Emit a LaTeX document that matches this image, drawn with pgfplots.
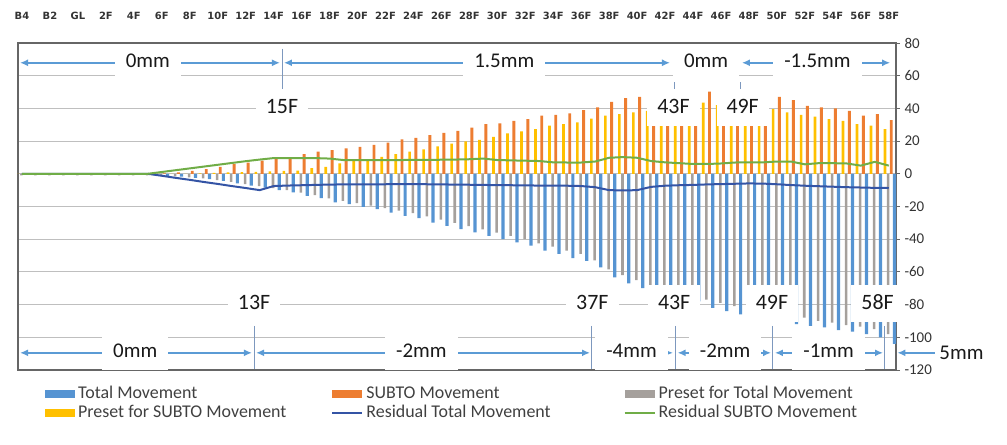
\documentclass[border=0pt]{standalone}
\usepackage{fontspec}
\setmainfont{Carlito}
\newfontfamily\tickfont{DejaVu Sans}
\usepackage{pgfplots}
\pgfplotsset{compat=1.18}
\usepackage{pgfplotstable}
\usetikzlibrary{arrows.meta}

\definecolor{cBlue}{RGB}{86,148,210}
\definecolor{cOrange}{RGB}{237,125,49}
\definecolor{cGray}{RGB}{165,160,156}
\definecolor{cGold}{RGB}{255,192,0}
\definecolor{cNavy}{RGB}{52,84,165}
\definecolor{cGreen}{RGB}{112,173,71}
\definecolor{cArrow}{RGB}{91,155,213}
\definecolor{cSep}{RGB}{125,152,190}

\pgfplotstableread{
i blue orange gray yellow rt rs
0 -0.3 0 -1 0 0 0
1 -0.3 0 -1 0 0 0
2 -0.3 0 -1 0 0 0
3 -0.3 0 -1 0 0 0
4 -0.3 0 -1 0 0 0
5 -0.3 0 -1 0 0 0
6 -0.3 0 -1 0 0 0
7 -0.4 0 -1 0 0 0
8 -0.5 0 -1 0 0 0
9 -0.8 0 -1 0 0 0
10 -1.2 0.3 -1.2 0 -1.2 1.1
11 -1.8 0.8 -1.6 0 -2.5 2.2
12 -2.5 1.8 -2.2 0 -3.7 3.3
13 -3.2 2.8 -2.8 0.3 -5 4.4
14 -4.3 4.3 -3.8 0.5 -6.2 5.5
15 -5.9 5.9 -5 0.8 -7.5 6.6
16 -7.3 6.9 -6.3 1 -8.7 7.7
17 -8.4 8 -7.5 1.2 -10 8.7
18 -10 9 -8.8 1.5 -7.5 9.6
19 -11.4 10 -10 1.8 -7.2 9.6
20 -13.5 12 -11.5 2 -7 9.6
21 -14.9 13.5 -13 3.5 -6.8 9.6
22 -17.5 14.5 -15 4.3 -6.6 9.3
23 -18.6 15.5 -16.5 6.3 -6.5 8.4
24 -20.2 16.5 -18 8 -6.5 8.4
25 -21.6 17.7 -19.5 8.3 -6.4 8.4
26 -23.7 19 -21 10.4 -6.4 8.4
27 -25.7 21 -22.5 12 -6.3 8.4
28 -27.1 22 -24 13.6 -6.3 8.5
29 -29.8 23.6 -26 15 -6.4 8.5
30 -31.8 25 -28 16.7 -6.5 8.6
31 -33.8 26.3 -30 18.5 -6.6 8.7
32 -35.8 28.3 -32 19.8 -6.7 8.9
33 -37.9 30.4 -34 20.8 -6.8 9.3
34 -40 30.8 -36 22.6 -7 8.4
35 -42 32.4 -38 24.7 -7 8.2
36 -44 33.4 -40 25.9 -7.1 8
37 -47 35.5 -42.5 27.3 -7.2 7.8
38 -49 36 -44.5 29.4 -7.3 7
39 -51.6 36.9 -47 30.4 -7.3 6.9
40 -53.2 39 -49 31.4 -7.5 6.9
41 -57.3 40.6 -53 33.8 -8.2 7.5
42 -63.4 44 -58.5 35.5 -10 9.8
43 -67 46.3 -62 36.5 -10.2 10.2
44 -70 47 -65 37.5 -10 9.8
45 -72 48 -69 38.5 -8 7.8
46 -74 48.5 -71 39.5 -7.3 7
47 -76 49 -73 40.5 -7 6.5
48 -78 49.5 -75 41.5 -6.8 6
49 -82 50.3 -77 43.6 -6.5 6
50 -84 49.5 -79 42 -6.3 6.3
51 -86 49 -81 41 -6.1 6.9
52 -88 48.5 -83 40.5 -5.9 7
53 -89 48 -84 40 -6 7
54 -90 47 -85 39.5 -6.4 7.5
55 -92 45 -87 37.5 -6.9 7.5
56 -93 41.6 -88 36 -7.3 5.8
57 -94 40.6 -90 35 -7.6 6.5
58 -95.6 40 -91 33.4 -7.9 6.5
59 -96.5 38.5 -92.6 32.4 -8.2 6.3
60 -98 35.5 -93.5 30.4 -8.4 5
61 -100 36.5 -95 29.4 -8.6 7.3
62 -104 32.8 -98 27.3 -8.7 5
}\datatable

\tikzset{
  arr/.style={draw=cArrow, line width=1.5bp},
  sep/.style={draw=cSep, line width=1bp},
  lbl/.style={fill=white, text=black!90, font=\fontsize{22}{24}\selectfont,
     text height=15bp, text depth=4bp, inner xsep=10bp, inner ysep=9bp},
  mm/.style={fill=white, text=black!90, font=\fontsize{21}{24}\selectfont,
     text height=14bp, text depth=4bp, inner xsep=11bp, inner ysep=8bp},
}

\begin{document}
\begin{tikzpicture}[x=1bp,y=1bp]
\path[use as bounding box] (0,0) rectangle (1007,445);
\begin{axis}[
  at={(18bp,75bp)}, anchor=south west,
  scale only axis, width=878bp, height=327bp,
  xmin=-0.286, xmax=62.52, ymin=-120, ymax=80,
  clip=false,
  axis line style={black!60, line width=1.1bp},
  /pgf/number format/assume math mode=true,
  xtick={0,2,...,62},
  xticklabels={B4,B2,GL,2F,4F,6F,8F,10F,12F,14F,16F,18F,20F,22F,24F,26F,28F,30F,32F,34F,36F,38F,40F,42F,44F,46F,48F,50F,52F,54F,56F,58F},
  xticklabel pos=top, xtick pos=top,
  x tick style={draw=none},
  xticklabel style={font=\tickfont\bfseries\fontsize{10}{11}\selectfont, text=black!80, yshift=16bp},
  ytick={-120,-100,...,80},
  yticklabel pos=right, ytick pos=right,
  y tick style={black!60, line width=0.8bp},
  tick align=outside, major tick length=4bp,
  yticklabel style={font=\fontsize{15}{16}\selectfont, text=black!80, xshift=1bp},
  ymajorgrids, grid style={black!25, line width=0.9bp},
  legend columns=3,
  legend cell align=left,
  legend style={at={(axis description cs:0.0307,-0.043)}, anchor=north west,
    draw=none, fill=none, inner sep=0pt, font=\fontsize{18}{20}\selectfont, text=black!75,
    row sep=0bp,
    nodes={inner xsep=3bp, inner ysep=1bp, text height=13bp, text depth=4bp},
    /tikz/column 2/.style={column sep=42bp},
    /tikz/column 4/.style={column sep=70bp}},
]
\addplot[ybar, bar width=0.23, bar shift=0.405, fill=cBlue, draw=none,
  legend image code/.code={\fill[cBlue] (0bp,-4bp) rectangle (30bp,4bp);}]
  table[x=i,y=blue]{\datatable};
\addlegendentry{Total Movement}
\addplot[ybar, bar width=0.21, bar shift=0.18, fill=cOrange, draw=none,
  legend image code/.code={\fill[cOrange] (0bp,-4bp) rectangle (30bp,4bp);}]
  table[x=i,y=orange]{\datatable};
\addlegendentry{SUBTO Movement}
\addplot[ybar, bar width=0.18, bar shift=-0.045, fill=cGray, draw=none,
  legend image code/.code={\fill[cGray] (0bp,-4bp) rectangle (30bp,4bp);}]
  table[x=i,y=gray]{\datatable};
\addlegendentry{Preset for Total Movement}
\addplot[ybar, bar width=0.19, bar shift=-0.27, fill=cGold, draw=none,
  legend image code/.code={\fill[cGold] (0bp,-4bp) rectangle (30bp,4bp);}]
  table[x=i,y=yellow]{\datatable};
\addlegendentry{Preset for SUBTO Movement}
\addplot[cNavy, line width=2bp, mark=none,
  legend image code/.code={\draw[cNavy, line width=2bp] (0bp,0bp) -- (30bp,0bp);}]
  table[x=i,y=rt]{\datatable};
\addlegendentry{Residual Total Movement}
\addplot[cGreen, line width=2bp, mark=none,
  legend image code/.code={\draw[cGreen, line width=2bp] (0bp,0bp) -- (30bp,0bp);}]
  table[x=i,y=rs]{\datatable};
\addlegendentry{Residual SUBTO Movement}

% separators
\draw[sep] (axis cs:18.6,76.5) -- (axis cs:18.6,50.8);
\draw[sep] (axis cs:46.64,56) -- (axis cs:46.64,50.8);
\draw[sep] (axis cs:51.36,56) -- (axis cs:51.36,50.8);
\draw[sep] (axis cs:16.6,-93) -- (axis cs:16.6,-119.3);
\draw[sep] (axis cs:40.77,-93) -- (axis cs:40.77,-119.3);
\draw[sep] (axis cs:46.78,-93) -- (axis cs:46.78,-119.3);
\draw[sep] (axis cs:53.72,-93) -- (axis cs:53.72,-119.3);
\draw[sep] (axis cs:61.73,-93) -- (axis cs:61.73,-119.3);
% arrows top
\draw[arr, {Latex[length=8bp,width=7bp]}-{Latex[length=8bp,width=7bp]}] (axis cs:-0.14,67.9) -- (axis cs:18.45,67.9);
\draw[arr, {Latex[length=8bp,width=7bp]}-{Latex[length=8bp,width=7bp]}] (axis cs:18.74,67.9) -- (axis cs:46.35,67.9);
\draw[arr, {Latex[length=8bp,width=7bp]}-{Latex[length=8bp,width=7bp]}] (axis cs:51.5,67.9) -- (axis cs:62.1,67.9);
% arrows bottom
\draw[arr, {Latex[length=8bp,width=7bp]}-{Latex[length=8bp,width=7bp]}] (axis cs:-0.14,-109.5) -- (axis cs:16.45,-109.5);
\draw[arr, {Latex[length=8bp,width=7bp]}-{Latex[length=8bp,width=7bp]}] (axis cs:16.74,-109.5) -- (axis cs:40.63,-109.5);
\draw[arr, {Latex[length=8bp,width=7bp]}-{Latex[length=8bp,width=7bp]}] (axis cs:40.99,-109.5) -- (axis cs:46.57,-109.5);
\draw[arr, {Latex[length=8bp,width=7bp]}-{Latex[length=8bp,width=7bp]}] (axis cs:46.9,-109.5) -- (axis cs:53.58,-109.5);
\draw[arr, {Latex[length=8bp,width=7bp]}-{Latex[length=8bp,width=7bp]}] (axis cs:53.86,-109.5) -- (axis cs:61.59,-109.5);
\draw[arr, {Latex[length=8bp,width=7bp]}-] (axis cs:62.62,-109.5) -- (axis cs:65.3,-109.5);
% text boxes top row
\node[mm] at (axis cs:9.0,67.9) {0mm};
\node[mm] at (axis cs:34.5,67.9) {1.5mm};
\node[mm] at (axis cs:48.93,67.9) {0mm};
\node[mm] at (axis cs:56.9,67.9) {-1.5mm};
% top floor labels
\node[lbl] at (axis cs:18.6,40.4) {15F};
\node[lbl] at (axis cs:46.6,40.4) {43F};
\node[lbl] at (axis cs:51.55,40.4) {49F};
% bottom floor labels
\node[lbl] at (axis cs:16.6,-79.5) {13F};
\node[lbl] at (axis cs:40.8,-79.5) {37F};
\node[lbl] at (axis cs:46.65,-79.5) {43F};
\node[lbl] at (axis cs:53.65,-79.5) {49F};
\node[lbl] at (axis cs:61.2,-79.5) {58F};
% bottom mm row
\node[mm] at (axis cs:8.1,-109.5) {0mm};
\node[mm] at (axis cs:28.57,-109.5) {-2mm};
\node[mm] at (axis cs:43.6,-109.5) {-4mm};
\node[mm] at (axis cs:50.3,-109.5) {-2mm};
\node[mm] at (axis cs:57.7,-109.5) {-1mm};
\node[text=black!90, font=\fontsize{21}{24}\selectfont, inner sep=0pt] at (axis cs:67.2,-109.5) {5mm};
\end{axis}
\end{tikzpicture}
\end{document}
